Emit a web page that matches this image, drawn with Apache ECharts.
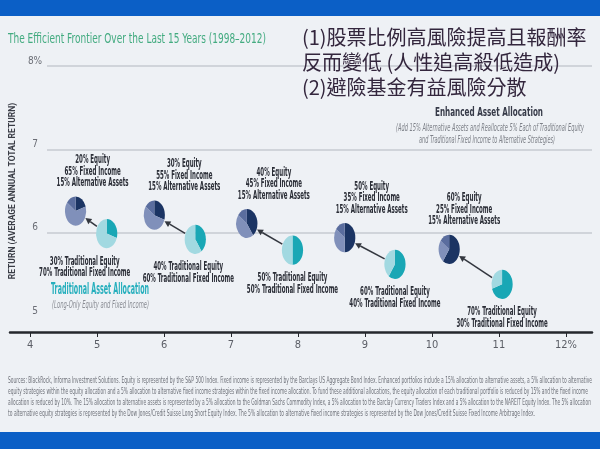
<!DOCTYPE html>
<html><head><meta charset="utf-8">
<script src="https://cdn.jsdelivr.net/npm/echarts@6/dist/echarts.min.js"></script>
<style>html,body{margin:0;padding:0;background:#eef1f5;} #c{width:600px;height:449px;}</style>
</head><body><div id="c"></div>
<script>
// ---------- data ----------
const xTicks = [4, 5, 6, 7, 8, 9, 10, 11, 12];
const yTicks = [5, 6, 7, 8];
// Traditional portfolios (risk %, return %)
const tradRisk   = [5.05, 6.39, 7.86, 9.41, 11.03];
const tradReturn = [5.99, 5.92, 5.79, 5.62, 5.38];
const tradEquity = [30, 40, 50, 60, 70];
const tradFixed  = [70, 60, 50, 40, 30];
// Enhanced portfolios
const enhRisk    = [4.58, 5.77, 7.17, 8.65, 10.23];
const enhReturn  = [6.26, 6.21, 6.11, 5.94, 5.80];
const enhEquity  = [20, 30, 40, 50, 60];
const enhFixed   = [65, 55, 45, 35, 25];
const enhAlt     = [15, 15, 15, 15, 15];

const titleText = 'The Efficient Frontier Over the Last 15 Years (1998\u20132012)';
const noteLines = [
 '(1)\u80a1\u7968\u6bd4\u4f8b\u9ad8\u98a8\u96aa\u63d0\u9ad8\u4e14\u5831\u916c\u7387',
 '\u53cd\u800c\u8b8a\u4f4e (\u4eba\u6027\u8ffd\u9ad8\u6bba\u4f4e\u9020\u6210)',
 '(2)\u907f\u96aa\u57fa\u91d1\u6709\u76ca\u98a8\u96aa\u5206\u6563'
];
const yAxisName = 'RETURN (AVERAGE ANNUAL TOTAL RETURN)';
const enhHeader = 'Enhanced Asset Allocation';
const enhSub = ['(Add 15% Alternative Assets and Reallocate 5% Each of Traditional Equity',
                'and Traditional Fixed Income to Alternative Strategies)'];
const tradHeader = 'Traditional Asset Allocation';
const tradSub = '(Long-Only Equity and Fixed Income)';
const footLines = [
 'Sources: BlackRock, Informa Investment Solutions. Equity is represented by the S&P 500 Index. Fixed income is represented by the Barclays US Aggregate Bond Index. Enhanced portfolios include a 15% allocation to alternative assets, a 5% allocation to alternative',
 'equity strategies within the equity allocation and a 5% allocation to alternative fixed income strategies within the fixed income allocation. To fund these additional allocations, the equity allocation of each traditional portfolio is reduced by 15% and the fixed income',
 'allocation is reduced by 10%. The 15% allocation to alternative assets is represented by a 5% allocation to the Goldman Sachs Commodity Index, a 5% allocation to the Barclay Currency Traders Index and a 5% allocation to the NAREIT Equity Index. The 5% allocation',
 'to alternative equity strategies is represented by the Dow Jones/Credit Suisse Long Short Equity Index. The 5% allocation to alternative fixed income strategies is represented by the Dow Jones/Credit Suisse Fixed Income Arbitrage Index.'
];

// ---------- layout / style ----------
const W = 600;
const X_AXIS_MIN = 3.7, X_AXIS_MAX = 12.39;
const G1_LEFT = 10, G_RIGHT = 8, G0_LEFT = 40;
const pxPerX = (W - G1_LEFT - G_RIGHT) / (X_AXIS_MAX - X_AXIS_MIN);
const X_DATA_MIN = X_AXIS_MIN + (G0_LEFT - G1_LEFT) / pxPerX;
const PIE_RX = 10.6, PIE_RY = 14.6;
const tradColors = ['#19a7b5', '#a2d9e1'];
const enhColors = ['#1b3463', '#8090ba', '#5a6d9e'];
const enhLabelDx = [17, 30, 27, 27, 15];
const tradLabelDx = [-22, -7, 0, 0, 0];
const NARROW = '"Liberation Sans Narrow", "DejaVu Sans Condensed", Roboto';
const LABEL_FONT = 'bold 12px ' + NARROW;
const LABEL_COLOR = '#2a2d36';

const mctx = document.createElement('canvas').getContext('2d');
function fitScale(text, font, width) { mctx.font = font; return width / mctx.measureText(text).width; }
const LABEL_SX = fitScale('15% Alternative Assets', LABEL_FONT, 72);

function txt(text, x, y, font, fill, sx, align) {
  return { type: 'text', x: x, y: y, scaleX: sx, z: 10,
    style: { text: text, font: font, fill: fill, align: align || 'center', verticalAlign: 'middle' } };
}
function pie(cx, cy, values, colors) {
  const total = values.reduce((a, b) => a + b, 0);
  let a = -Math.PI / 2;
  const children = values.map((v, k) => {
    const s = a, e = a + v / total * Math.PI * 2; a = e;
    return { type: 'sector', shape: { cx: 0, cy: 0, r: PIE_RY, r0: 0, startAngle: s, endAngle: e, clockwise: true },
      style: { fill: colors[k] } };
  });
  return { type: 'group', x: cx, y: cy, scaleX: PIE_RX / PIE_RY, children: children };
}
function edgeDist(ux, uy) { return 1 / Math.sqrt((ux / PIE_RX) ** 2 + (uy / PIE_RY) ** 2); }

const chart = echarts.init(document.getElementById('c'));

const TITLE_FONT = '14px ' + NARROW;
const SUB_FONT = 'italic 10px ' + NARROW;
const FOOT_FONT = '9px ' + NARROW;
const graphics = [
  { type: 'rect', shape: { x: 0, y: 0, width: 600, height: 16 }, style: { fill: '#0b5fc6' }, z: 0 },
  { type: 'rect', shape: { x: 0, y: 432, width: 600, height: 17 }, style: { fill: '#0b5fc6' }, z: 0 },
  txt(titleText, 8, 39, TITLE_FONT, '#43ab80', fitScale(titleText, TITLE_FONT, 258), 'left'),
  txt(noteLines[0], 302, 37, '20px "Noto Sans CJK TC"', '#33263d', 1, 'left'),
  txt(noteLines[1], 302, 62, '20px "Noto Sans CJK TC"', '#33263d', 1, 'left'),
  txt(noteLines[2], 302, 87, '20px "Noto Sans CJK TC"', '#33263d', 1, 'left'),
  txt(enhHeader, 489, 113, 'bold 13px ' + NARROW, '#363a48', fitScale(enhHeader, 'bold 13px ' + NARROW, 108)),
  txt(enhSub[0], 490, 128, SUB_FONT, '#7d8088', fitScale(enhSub[0], SUB_FONT, 188)),
  txt(enhSub[1], 487, 140, SUB_FONT, '#7d8088', fitScale(enhSub[1], SUB_FONT, 136)),
  txt(tradHeader, 51, 290, 'bold 15px ' + NARROW, '#26afbd', fitScale(tradHeader, 'bold 15px ' + NARROW, 98), 'left'),
  txt(tradSub, 52, 305, SUB_FONT, '#8a8d94', fitScale(tradSub, SUB_FONT, 97), 'left')
];
const footW = [584, 580, 583, 527];
const footY = [381, 392, 403, 414];
footLines.forEach((l, i) => graphics.push(txt(l, 8, footY[i], FOOT_FONT, '#6f727a', fitScale(l, FOOT_FONT, footW[i]), 'left')));

const option = {
  backgroundColor: '#eef1f5',
  animation: false,
  grid: [
    { left: G0_LEFT, right: G_RIGHT, top: 66, bottom: 133 },
    { left: G1_LEFT, right: G_RIGHT, top: 66, bottom: 117 }
  ],
  xAxis: [
    { gridIndex: 0, type: 'value', min: X_DATA_MIN, max: X_AXIS_MAX, show: false },
    { gridIndex: 1, type: 'value', min: X_AXIS_MIN, max: X_AXIS_MAX,
      axisLine: { show: true, lineStyle: { color: '#25272d', width: 2.5 } },
      axisTick: { show: true, customValues: xTicks, length: 5, lineStyle: { color: '#25272d', width: 1 } },
      axisLabel: { customValues: xTicks, color: '#5b5e66', fontSize: 11, fontFamily: NARROW, margin: 8,
        formatter: v => v === xTicks[xTicks.length - 1] ? v + '%' : String(v) },
      splitLine: { show: false } }
  ],
  yAxis: [
    { gridIndex: 0, type: 'value', min: yTicks[0], max: yTicks[yTicks.length - 1], interval: 1,
      axisLine: { show: false }, axisTick: { show: false },
      splitLine: { show: true, showMinLine: false, lineStyle: { color: '#c6cad1', width: 1.5 } },
      axisLabel: { color: '#6b6e76', fontSize: 10, fontFamily: NARROW, align: 'center', margin: 12, verticalAlign: 'bottom',
        formatter: v => v === yTicks[yTicks.length - 1] ? v + '%' : String(v) },
      name: yAxisName, nameLocation: 'middle', nameGap: 28, nameRotate: 90,
      nameTextStyle: { color: '#3a3d46', fontSize: 8.5, fontWeight: 'bold', fontFamily: 'Roboto' } },
    { gridIndex: 1, type: 'value', min: yTicks[0], max: yTicks[yTicks.length - 1], show: false }
  ],
  graphic: graphics,
  series: [
    { type: 'custom', name: 'shift', xAxisIndex: 0, yAxisIndex: 0, z: 3,
      data: tradRisk.map((x, i) => [x, tradReturn[i], enhRisk[i], enhReturn[i]]),
      encode: { x: [0, 2], y: [1, 3] },
      renderItem: (params, api) => {
        const p1 = api.coord([api.value(0), api.value(1)]);
        const p2 = api.coord([api.value(2), api.value(3)]);
        const dx = p2[0] - p1[0], dy = p2[1] - p1[1];
        const L = Math.hypot(dx, dy), ux = dx / L, uy = dy / L;
        const d = edgeDist(ux, uy);
        const s = [p1[0] + ux * (d + 0.5), p1[1] + uy * (d + 0.5)];
        const e = [p2[0] - ux * (d + 0.5), p2[1] - uy * (d + 0.5)];
        const hl = 6, hw = 3.2;
        const b = [e[0] - ux * hl, e[1] - uy * hl];
        return { type: 'group', children: [
          { type: 'line', shape: { x1: s[0], y1: s[1], x2: b[0], y2: b[1] }, style: { stroke: '#33373f', lineWidth: 1.5 } },
          { type: 'polygon', shape: { points: [e, [b[0] - uy * hw, b[1] + ux * hw], [b[0] + uy * hw, b[1] - ux * hw]] },
            style: { fill: '#33373f' } }
        ] };
      } },
    { type: 'custom', name: 'Traditional', xAxisIndex: 0, yAxisIndex: 0, z: 4,
      data: tradRisk.map((x, i) => [x, tradReturn[i], tradEquity[i], tradFixed[i]]),
      encode: { x: 0, y: 1 },
      renderItem: (params, api) => {
        const i = params.dataIndex;
        const c = api.coord([api.value(0), api.value(1)]);
        const eq = api.value(2), fx = api.value(3);
        const lx = c[0] + tradLabelDx[i];
        return { type: 'group', children: [
          pie(c[0], c[1], [eq, fx], tradColors),
          txt(eq + '% Traditional Equity', lx, c[1] + 28, LABEL_FONT, LABEL_COLOR, LABEL_SX),
          txt(fx + '% Traditional Fixed Income', lx, c[1] + 39.5, LABEL_FONT, LABEL_COLOR, LABEL_SX)
        ] };
      } },
    { type: 'custom', name: 'Enhanced', xAxisIndex: 0, yAxisIndex: 0, z: 4,
      data: enhRisk.map((x, i) => [x, enhReturn[i], enhEquity[i], enhFixed[i], enhAlt[i]]),
      encode: { x: 0, y: 1 },
      renderItem: (params, api) => {
        const i = params.dataIndex;
        const c = api.coord([api.value(0), api.value(1)]);
        const eq = api.value(2), fx = api.value(3), al = api.value(4);
        const lx = c[0] + enhLabelDx[i];
        return { type: 'group', children: [
          pie(c[0], c[1], [eq, fx, al], enhColors),
          txt(eq + '% Equity', lx, c[1] - 51, LABEL_FONT, LABEL_COLOR, LABEL_SX),
          txt(fx + '% Fixed Income', lx, c[1] - 39.5, LABEL_FONT, LABEL_COLOR, LABEL_SX),
          txt(al + '% Alternative Assets', lx, c[1] - 28, LABEL_FONT, LABEL_COLOR, LABEL_SX)
        ] };
      } }
  ]
};
chart.setOption(option);
</script>
</body></html>
